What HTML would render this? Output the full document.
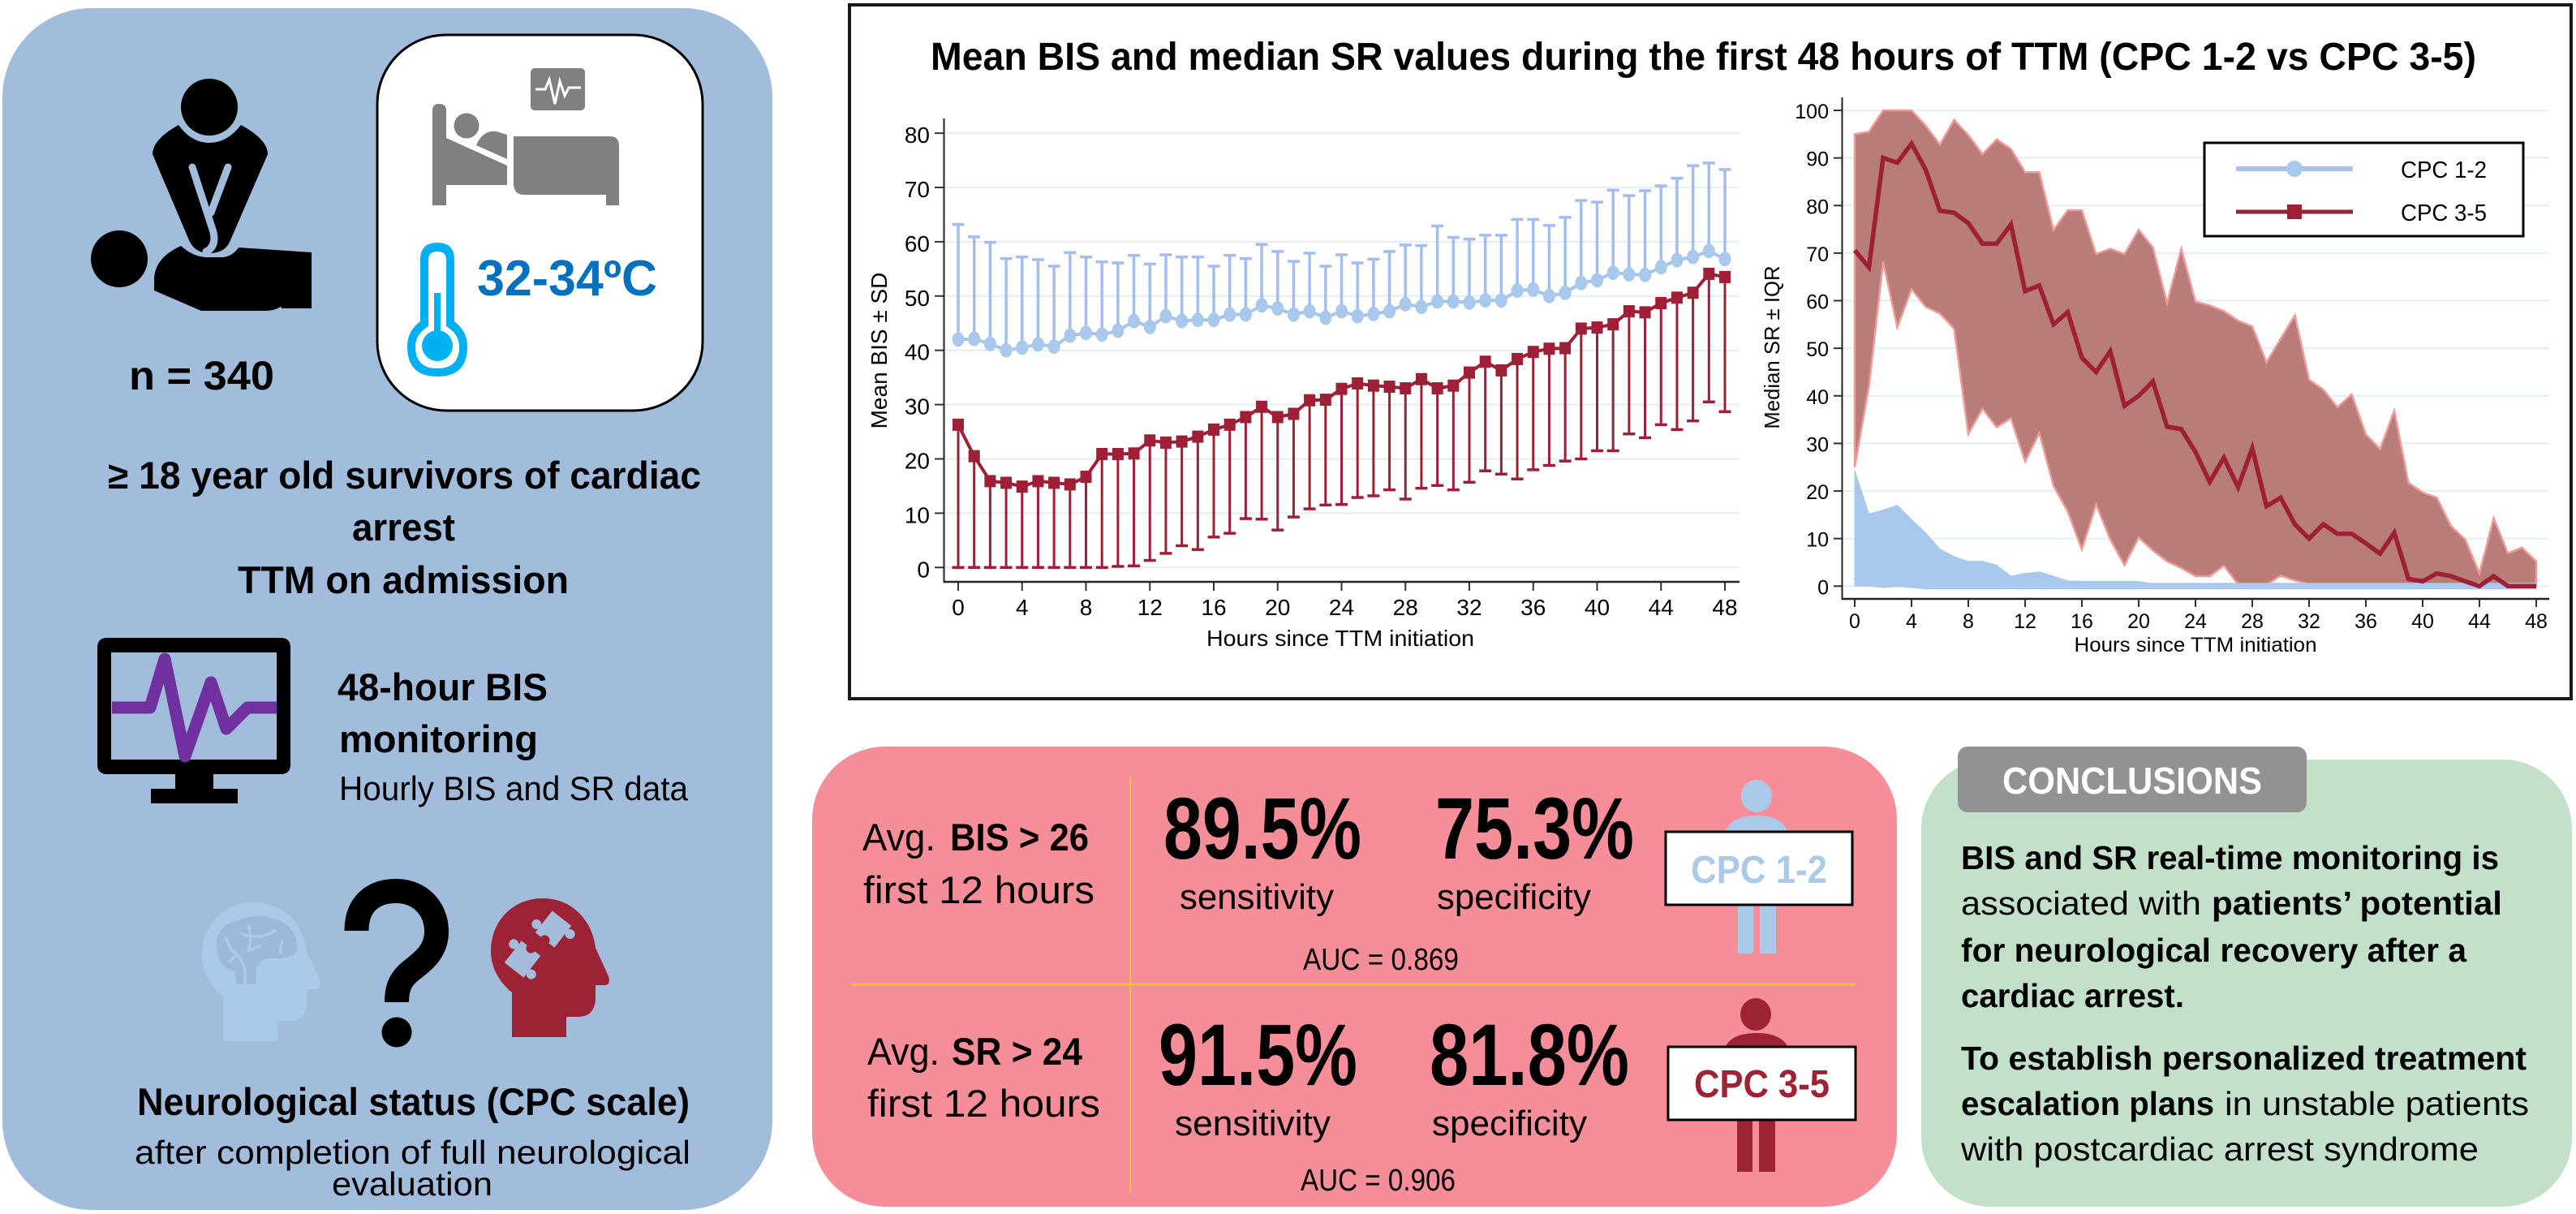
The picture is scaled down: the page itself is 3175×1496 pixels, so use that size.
<!DOCTYPE html>
<html lang="en">
<head>
<meta charset="utf-8">
<title>BIS and SR monitoring after cardiac arrest</title>
<style>
html,body{margin:0;padding:0;background:#fff;width:3175px;height:1496px;overflow:hidden}
svg{display:block}
text{font-family:"Liberation Sans",sans-serif;fill:#000}
.b{font-weight:bold}
</style>
</head>
<body>
<svg id="root" xmlns="http://www.w3.org/2000/svg" width="3175" height="1496" viewBox="0 0 3175 1496">
<rect width="3175" height="1496" fill="#fff"/>

<!-- LEFT PANEL -->
<g>
<rect x="3" y="10" width="949" height="1481" rx="110" ry="110" fill="#a2bcdc"/>
<g>
<circle cx="258" cy="132" r="35" fill="#000"/>
<path d="M220,154 Q188,172 188,190 L233,296 Q240,312 258,312 Q278,312 284,296 L330,190 Q330,172 297,154 Q280,176 258,176 Q236,176 220,154 Z" fill="#000"/>
<path d="M237,206 L263,286 Q267,304 254,310 M281,206 L260,262" fill="none" stroke="#a2bcdc" stroke-width="9" stroke-linecap="round"/>
<ellipse cx="147" cy="319" rx="35" ry="35" fill="#000"/>
<path d="M223,303 Q190,318 190,345 L190,358 L248,383 L325,383 Q350,383 351,367 Q350,340 328,338 L262,338 Q250,343 262,348 L315,348 Q340,360 347,380 L384,380 L384,311 L294,305 Q285,318 270,317 L258,317 Q240,318 223,303 Z" fill="#000"/>
</g>
<text x="159" y="480" class="b" font-size="50" textLength="179" lengthAdjust="spacingAndGlyphs">n = 340</text>

<g>
<rect x="465" y="43" width="401" height="463" rx="85" ry="85" fill="#fff" stroke="#000" stroke-width="3"/>
<g fill="#808080">
<rect x="654" y="84" width="67" height="52" rx="5"/>
<path d="M660,110 L672,110 L677,98 L684,128 L690,100 L696,118 L701,108 L716,108" fill="none" stroke="#fff" stroke-width="3"/>
<path d="M533,136 Q533,128 541,128 Q550,128 550,136 L550,228 L625,228 L625,204 L550,170 L550,253 L533,253 Z"/>
<circle cx="575" cy="155" r="15.5"/>
<path d="M587,179 Q595,160 612,162 L625,166 L625,196 Z"/>
<path d="M633,168 L752,168 Q763,168 763,180 L763,253 L747,253 L747,240 L646,240 Q633,240 633,226 Z"/>
</g>
<g>
<path d="M518,320 Q518,299 539,299 Q560,299 560,320 L560,396 Q576,408 576,427 Q576,464 539,464 Q502,464 502,427 Q502,408 518,396 Z" fill="#00b0f0"/>
<path d="M528,320 Q528,310 539,310 Q550,310 550,320 L550,402 Q566,412 566,427 Q566,454 539,454 Q512,454 512,427 Q512,412 528,402 Z" fill="#fff"/>
<rect x="535" y="361" width="8" height="60" fill="#00b0f0"/>
<circle cx="539" cy="426" r="19" fill="#00b0f0"/>
</g>
<text x="588" y="364" class="b" font-size="62" textLength="222" lengthAdjust="spacingAndGlyphs" style="fill:#0070c0">32-34ºC</text>
</g>

<text x="133" y="602" class="b" font-size="47" textLength="731" lengthAdjust="spacingAndGlyphs">≥ 18 year old survivors of cardiac</text>
<text x="434" y="666" class="b" font-size="47" textLength="127" lengthAdjust="spacingAndGlyphs">arrest</text>
<text x="293" y="731" class="b" font-size="47" textLength="408" lengthAdjust="spacingAndGlyphs">TTM on admission</text>

<g>
<path fill-rule="evenodd" d="M132,786 L346,786 Q358,786 358,798 L358,942 Q358,954 346,954 L132,954 Q120,954 120,942 L120,798 Q120,786 132,786 Z M137,804 L137,936 L341,936 L341,804 Z" fill="#000"/>
<rect x="216" y="954" width="47" height="18" fill="#000"/>
<rect x="186" y="972" width="107" height="18" fill="#000"/>
<path d="M138,872 L185,872 L203,812 L228,932 L260,841 L279,898 L305,872 L341,872" fill="none" stroke="#7030a0" stroke-width="15" stroke-linejoin="round"/>
</g>
<text x="416" y="863" class="b" font-size="47" textLength="259" lengthAdjust="spacingAndGlyphs">48-hour BIS</text>
<text x="418" y="927" class="b" font-size="47" textLength="245" lengthAdjust="spacingAndGlyphs">monitoring</text>
<text x="418" y="986" font-size="42" textLength="430" lengthAdjust="spacingAndGlyphs">Hourly BIS and SR data</text>

<g>
<path transform="translate(-356,5)" d="M631,1278 L631,1223 C615,1210 605,1192 605,1172 C605,1135 632,1107 669,1107 C706,1107 730,1135 734,1168 L750,1203 Q753,1214 745,1214 L734,1214 L734,1232 Q732,1253 713,1253 L698,1253 L698,1278 Z" fill="#abcae9"/>
<path d="M292,1213 L289,1197 C275,1195 266,1178 267,1165 C265,1148 280,1135 295,1134 C310,1126 330,1128 340,1134 C355,1135 366,1150 366,1168 C366,1180 350,1182 330,1181 C318,1183 315,1190 315,1213 Z" fill="#9db9da"/>
<path d="M302,1213 L302,1195 Q298,1180 285,1170 L278,1155 M290,1178 L282,1186 M306,1140 Q312,1158 305,1172 M296,1150 Q320,1160 340,1146 M345,1175 L348,1158 M322,1165 L305,1172" fill="none" stroke="#abcae9" stroke-width="3.5"/>
</g>
<g>
<path d="M439.5,1147 C439.5,1114 460,1098 488,1098 C518,1098 538,1120 538,1148 C538,1172 522,1184 508,1195 C495,1205 489,1215 489,1235" fill="none" stroke="#000" stroke-width="30"/>
<circle cx="489" cy="1272" r="18.5" fill="#000"/>
</g>
<g>
<path d="M631,1278 L631,1223 C615,1210 605,1192 605,1172 C605,1135 632,1107 669,1107 C706,1107 730,1135 734,1168 L750,1203 Q753,1214 745,1214 L734,1214 L734,1232 Q732,1253 713,1253 L698,1253 L698,1278 Z" fill="#9e2236"/>
<g transform="translate(644,1182) rotate(38)" fill="#a4bcdb">
<rect x="-15" y="-17" width="30" height="34"/>
<circle cx="-20" cy="-8" r="6"/>
<circle cx="20" cy="8" r="6"/>
<circle cx="0" cy="-17" r="6" fill="#9e2236"/>
</g>
<g transform="translate(682,1145) rotate(38)" fill="#a4bcdb">
<rect x="-15" y="-17" width="30" height="34"/>
<circle cx="20" cy="-8" r="6"/>
<circle cx="-20" cy="8" r="6"/>
<circle cx="0" cy="17" r="6" fill="#9e2236"/>
</g>
</g>
<text x="169" y="1374" class="b" font-size="47" textLength="681" lengthAdjust="spacingAndGlyphs">Neurological status (CPC scale)</text>
<text x="166" y="1434" font-size="41" textLength="685" lengthAdjust="spacingAndGlyphs">after completion of full neurological</text>
<text x="409" y="1473" font-size="41" textLength="198" lengthAdjust="spacingAndGlyphs">evaluation</text>
</g>

<!-- CHART FRAME -->
<rect x="1047" y="6" width="2122" height="855" fill="#fff" stroke="#1a1a1a" stroke-width="4"/>
<text x="1147" y="86" class="b" font-size="48" textLength="1905" lengthAdjust="spacingAndGlyphs">Mean BIS and median SR values during the first 48 hours of TTM (CPC 1-2 vs CPC 3-5)</text>

<g id="bis-chart">
<text transform="translate(1093,432) rotate(-90)" text-anchor="middle" font-size="28">Mean BIS ± SD</text>
<text x="1652" y="796" text-anchor="middle" font-size="28" textLength="330" lengthAdjust="spacingAndGlyphs">Hours since TTM initiation</text>
</g>
<g id="sr-chart">
<text transform="translate(2193,428) rotate(-90)" text-anchor="middle" font-size="25.7">Median SR ± IQR</text>
<text x="2706" y="803" text-anchor="middle" font-size="25" textLength="299" lengthAdjust="spacingAndGlyphs">Hours since TTM initiation</text>
</g>

<g>
<rect x="2717" y="176" width="393" height="115" fill="#fff" stroke="#000" stroke-width="3"/>
<line x1="2756" y1="208" x2="2900" y2="208" stroke="#a7c1ea" stroke-width="6"/>
<circle cx="2828" cy="208" r="10" fill="#a9c9ec"/>
<text x="2959" y="219" font-size="29" textLength="106" lengthAdjust="spacingAndGlyphs">CPC 1-2</text>
<line x1="2756" y1="261" x2="2900" y2="261" stroke="#9e1f36" stroke-width="5"/>
<rect x="2819" y="252" width="18" height="18" fill="#9e1f36"/>
<text x="2959" y="272" font-size="29" textLength="106" lengthAdjust="spacingAndGlyphs">CPC 3-5</text>
</g>

<!-- RESULTS PANEL -->
<g>
<rect x="1001" y="920" width="1337" height="567" rx="90" ry="90" fill="#f58e98"/>
<line x1="1393" y1="957" x2="1393" y2="1470" stroke="#f5c13a" stroke-width="2"/>
<line x1="1049" y1="1213" x2="2287" y2="1213" stroke="#f5c13a" stroke-width="2.5"/>

<text x="1063" y="1048" font-size="47" textLength="90" lengthAdjust="spacingAndGlyphs">Avg.</text>
<text x="1171" y="1048" class="b" font-size="47" textLength="171" lengthAdjust="spacingAndGlyphs">BIS &gt; 26</text>
<text x="1064" y="1113" font-size="47" textLength="285" lengthAdjust="spacingAndGlyphs">first 12 hours</text>
<text x="1069" y="1312" font-size="47" textLength="89" lengthAdjust="spacingAndGlyphs">Avg.</text>
<text x="1173" y="1312" class="b" font-size="47" textLength="161" lengthAdjust="spacingAndGlyphs">SR &gt; 24</text>
<text x="1069" y="1376" font-size="47" textLength="287" lengthAdjust="spacingAndGlyphs">first 12 hours</text>

<text x="1434" y="1058" class="b" font-size="108" textLength="244" lengthAdjust="spacingAndGlyphs">89.5%</text>
<text x="1769" y="1058" class="b" font-size="108" textLength="245" lengthAdjust="spacingAndGlyphs">75.3%</text>
<text x="1454" y="1120" font-size="44" textLength="190" lengthAdjust="spacingAndGlyphs">sensitivity</text>
<text x="1771" y="1120" font-size="44" textLength="190" lengthAdjust="spacingAndGlyphs">specificity</text>
<text x="1606" y="1195" font-size="38" textLength="192" lengthAdjust="spacingAndGlyphs">AUC = 0.869</text>

<text x="1428" y="1337" class="b" font-size="108" textLength="245" lengthAdjust="spacingAndGlyphs">91.5%</text>
<text x="1762" y="1337" class="b" font-size="108" textLength="246" lengthAdjust="spacingAndGlyphs">81.8%</text>
<text x="1448" y="1399" font-size="44" textLength="192" lengthAdjust="spacingAndGlyphs">sensitivity</text>
<text x="1765" y="1399" font-size="44" textLength="191" lengthAdjust="spacingAndGlyphs">specificity</text>
<text x="1603" y="1467" font-size="38" textLength="191" lengthAdjust="spacingAndGlyphs">AUC = 0.906</text>

<g fill="#abcae9">
<ellipse cx="2165" cy="981" rx="19" ry="20"/>
<path d="M2126,1026 Q2134,1005 2165,1005 Q2196,1005 2204,1026 Z"/>
<rect x="2142" y="1115" width="19" height="60"/>
<rect x="2169" y="1115" width="20" height="60"/>
<rect x="2053" y="1025" width="230" height="90" fill="#fff" stroke="#000" stroke-width="3"/>
<text x="2084" y="1088" class="b" font-size="48" textLength="168" lengthAdjust="spacingAndGlyphs" style="fill:#abcae9">CPC 1-2</text>
</g>
<g fill="#9e2236">
<ellipse cx="2164" cy="1250" rx="19" ry="20"/>
<path d="M2126,1291 Q2134,1273 2165,1273 Q2196,1273 2204,1291 Z"/>
<rect x="2141" y="1380" width="19" height="64"/>
<rect x="2168" y="1380" width="20" height="64"/>
<rect x="2056" y="1290" width="231" height="90" fill="#fff" stroke="#000" stroke-width="3"/>
<text x="2088" y="1352" class="b" font-size="48" textLength="167" lengthAdjust="spacingAndGlyphs" style="fill:#9e2236">CPC 3-5</text>
</g>
</g>

<!-- CONCLUSIONS -->
<g>
<rect x="2368" y="936" width="802" height="551" rx="85" ry="85" fill="#c3e0ca"/>
<rect x="2413" y="920" width="430" height="81" rx="12" ry="12" fill="#929292"/>
<text x="2468" y="978" class="b" font-size="46" textLength="320" lengthAdjust="spacingAndGlyphs" style="fill:#fff">CONCLUSIONS</text>
<text x="2417" y="1071" class="b" font-size="41" textLength="663" lengthAdjust="spacingAndGlyphs">BIS and SR real-time monitoring is</text>
<text x="2417" y="1127" font-size="41" textLength="296" lengthAdjust="spacingAndGlyphs">associated with</text>
<text x="2726" y="1127" class="b" font-size="41" textLength="358" lengthAdjust="spacingAndGlyphs">patients’ potential</text>
<text x="2417" y="1185" class="b" font-size="41" textLength="623" lengthAdjust="spacingAndGlyphs">for neurological recovery after a</text>
<text x="2417" y="1241" class="b" font-size="41" textLength="275" lengthAdjust="spacingAndGlyphs">cardiac arrest.</text>
<text x="2417" y="1318" class="b" font-size="41" textLength="697" lengthAdjust="spacingAndGlyphs">To establish personalized treatment</text>
<text x="2417" y="1374" class="b" font-size="41" textLength="312" lengthAdjust="spacingAndGlyphs">escalation plans</text>
<text x="2742" y="1374" font-size="41" textLength="375" lengthAdjust="spacingAndGlyphs">in unstable patients</text>
<text x="2417" y="1430" font-size="41" textLength="638" lengthAdjust="spacingAndGlyphs">with postcardiac arrest syndrome</text>
</g>
</svg>

<script>
// ---- chart data ----
const hours = [0,1,2,3,4,5,6,7,8,9,10,11,12,13,14,15,16,17,18,19,20,21,22,23,24,25,26,27,28,29,30,31,32,33,34,35,36,37,38,39,40,41,42,43,44,45,46,47,48];
const xTickLabels = [0,4,8,12,16,20,24,28,32,36,40,44,48];
const bisTickLabels = [0,10,20,30,40,50,60,70,80];
const srTickLabels = [0,10,20,30,40,50,60,70,80,90,100];

const bisGoodMean = [42,42.1,41.2,40,40.5,41.1,40.7,42.7,43.2,42.9,43.6,45.4,44.3,46.3,45.4,45.6,45.6,46.6,46.6,48.3,47.7,46.6,47.2,46,47.2,46.3,46.7,47.2,48.5,48,49,49,48.8,49.2,49.2,51,51.2,50,50.6,52.4,52.9,54.3,54,53.9,55.3,56.6,57.2,58.3,56.8];
const bisGoodUpper = [63.2,60.9,59.9,56.9,57.2,56.7,55.5,58,57.2,56.3,56.1,57.5,55.9,57.6,57.2,57.2,55.5,57.5,56.9,59.5,58.2,56.4,57.9,55.5,57.6,56.1,56.8,58.2,59.4,59.3,62.9,60.8,60.5,61.2,61.2,64.1,64.1,63,64.5,67.6,67.3,69.5,68.5,69.4,70.3,71.7,74,74.5,73.3];
const bisPoorMean = [26.3,20.5,15.9,15.6,14.9,15.9,15.6,15.3,16.7,20.9,20.9,21,23.4,23,23.2,24.1,25.4,26.3,27.7,29.6,27.7,28.3,30.8,30.9,32.9,33.9,33.5,33.3,33,34.7,33,33.5,35.9,37.9,36.3,38.4,39.7,40.3,40.4,44,44.2,44.8,47.2,47,48.7,49.7,50.6,54.1,53.5];
const bisPoorLower = [0,0,0,0,0,0,0,0,0,0,0.2,0.3,1.3,2.6,4,3.3,5.6,6.3,9,8.9,6.9,9.3,10.8,11.5,11.6,12.9,13.2,14.3,12.6,14.6,15.1,14.3,15.7,17.8,17.2,16.3,18,18.8,19.6,20,21.5,21.5,24.6,23.9,26.3,25.4,27,30.5,28.7];

const srPoorMedian = [70.6,67,90,89,93,87.5,78.9,78.5,76.3,72,72,76,62,63.2,55,57.6,48,45,49.4,37.9,40,43,33.5,33,28.2,21.9,27,20.8,29,16.8,18.6,13,10,13,11,11,9,6.8,11.2,1.5,1,2.7,2.1,1,0,2.1,0,0,0];
const srPoorUpper = [95,95.5,100,100,100,96.8,92.8,98,94.8,90.8,93.9,91.9,87,87,74.8,79,79,69.8,70.9,69.8,74.9,71.2,59.5,70.9,59.8,59,57.8,55.8,54.6,47,52,56.9,43.4,41.3,37.6,40.3,31.9,28.8,36.9,21.7,19.7,18.6,12.6,9.8,2.7,14.3,6.9,8.1,5.2];
const srPoorLower = [25,42,68.2,54.4,62.4,58.7,57.3,54.1,32,37.3,33.4,35.3,26.2,32.2,21.1,15.7,7.7,17.2,9.8,4.4,10.2,7.5,5.2,3.8,2.1,2.1,4.3,0.4,0,0.3,2.2,1.2,0.4,0,0,0,0,0,0,0,0,0,0,0,0,0,0,0,0];
const srGoodMedian = [2,0.6,0.3,0.5,0.3,0,0,0,0,0,0,0,0,0,0,0,0,0,0,0,0,0,0,0,0,0,0,0,0,0,0,0,0,0,0,0,0,0,0,0,0,0,0,0,0,0,0,0,0];
const srGoodUpper = [24.3,15.2,16,17,14,11.2,7.8,6.2,5.2,5.2,4.4,2.1,2.7,3,2.1,1.1,1,1,1,1,1,0.5,0.5,0.5,0.5,0.5,0.5,0.5,0.5,0.5,0.5,0.5,0.5,0.5,0.5,0.5,0.5,0.5,0.5,0.5,0.5,0.5,0.5,0.5,0.5,0.5,0.5,0.5,0.5];
const srGoodLower = [0,0,0,0,0,0,0,0,0,0,0,0,0,0,0,0,0,0,0,0,0,0,0,0,0,0,0,0,0,0,0,0,0,0,0,0,0,0,0,0,0,0,0,0,0,0,0,0,0];

// ---- axis functions ----
function xBis(h){ return 1181 + h * (2126 - 1181) / 48; }
function yBis(v){ return 699.3 - v * 6.69; }
function xSr(h){ return 2286 + h * (3126 - 2286) / 48; }
function ySr(v){ return 722.3 - v * 5.863; }

const NS = 'http://www.w3.org/2000/svg';
const bisRoot = document.getElementById('bis-chart');
const srRoot = document.getElementById('sr-chart');
function mk(parent, tag, attrs){
  const node = document.createElementNS(NS, tag);
  Object.keys(attrs).forEach(function(k){ node.setAttribute(k, attrs[k]); });
  parent.appendChild(node);
  return node;
}
function linePath(xs, ys, xf, yf){
  return xs.map(function(h, i){ return (i ? 'L' : 'M') + xf(h).toFixed(1) + ',' + yf(ys[i]).toFixed(1); }).join(' ');
}
function bandPath(xs, up, lo, xf, yf){
  const top = xs.map(function(h, i){ return (i ? 'L' : 'M') + xf(h).toFixed(1) + ',' + yf(up[i]).toFixed(1); }).join(' ');
  const bottom = xs.slice().reverse().map(function(h, i){ const k = xs.length - 1 - i; return 'L' + xf(h).toFixed(1) + ',' + yf(lo[k]).toFixed(1); }).join(' ');
  return top + ' ' + bottom + ' Z';
}

// ---- BIS chart: grid and axes ----
bisTickLabels.forEach(function(v){
  const grid = mk(bisRoot, 'line', {x1:1164, x2:2144, y1:yBis(v), y2:yBis(v), stroke:'#e8f0f3', 'stroke-width':2.5});
  
  
  const tick = mk(bisRoot, 'line', {x1:1152, x2:1164, y1:yBis(v), y2:yBis(v), stroke:'#333', 'stroke-width':2});
  
  
  const label = mk(bisRoot, 'text', {x:1146, y:yBis(v) + 12, 'text-anchor':'end', 'font-size':28});
  label.textContent = v;
  
  
});
xTickLabels.forEach(function(h){
  const tick = mk(bisRoot, 'line', {x1:xBis(h), x2:xBis(h), y1:717, y2:728, stroke:'#333', 'stroke-width':2});
  
  
  const label = mk(bisRoot, 'text', {x:xBis(h), y:758, 'text-anchor':'middle', 'font-size':28});
  label.textContent = h;
  
  
});
const bisYAxis = mk(bisRoot, 'line', {x1:1163.5, x2:1163.5, y1:146, y2:718, stroke:'#222', 'stroke-width':2});


const bisXAxis = mk(bisRoot, 'line', {x1:1163, x2:2144, y1:717, y2:717, stroke:'#222', 'stroke-width':2.5});



// ---- BIS chart: good-outcome series ----
hours.forEach(function(h, i){
  const stem = mk(bisRoot, 'line', {x1:xBis(h), x2:xBis(h), y1:yBis(bisGoodMean[i]), y2:yBis(bisGoodUpper[i]), stroke:'#a3bdee', 'stroke-width':3.5});
  
  
  const cap = mk(bisRoot, 'line', {x1:xBis(h) - 7.5, x2:xBis(h) + 7.5, y1:yBis(bisGoodUpper[i]), y2:yBis(bisGoodUpper[i]), stroke:'#a3bdee', 'stroke-width':3.5});
  
  
});
const bisGoodLine = mk(bisRoot, 'path', {d:linePath(hours, bisGoodMean, xBis, yBis), fill:'none', stroke:'#a7c4ec', 'stroke-width':4});


hours.forEach(function(h, i){
  const dot = mk(bisRoot, 'ellipse', {cx:xBis(h), cy:yBis(bisGoodMean[i]), rx:7.5, ry:9, fill:'#a9c9ec'});
  
  
});

// ---- BIS chart: poor-outcome series ----
hours.forEach(function(h, i){
  const stem = mk(bisRoot, 'line', {x1:xBis(h), x2:xBis(h), y1:yBis(bisPoorMean[i]), y2:yBis(bisPoorLower[i]), stroke:'#9e1f36', 'stroke-width':3});
  
  
  const cap = mk(bisRoot, 'line', {x1:xBis(h) - 7.5, x2:xBis(h) + 7.5, y1:yBis(bisPoorLower[i]), y2:yBis(bisPoorLower[i]), stroke:'#9e1f36', 'stroke-width':3.5});
  
  
});
const bisPoorLine = mk(bisRoot, 'path', {d:linePath(hours, bisPoorMean, xBis, yBis), fill:'none', stroke:'#9e1f36', 'stroke-width':4});


hours.forEach(function(h, i){
  const sq = mk(bisRoot, 'rect', {x:xBis(h) - 7, y:yBis(bisPoorMean[i]) - 7.5, width:14, height:15, fill:'#9e1f36'});
  
  
});

// ---- SR chart: grid and axes ----
srTickLabels.forEach(function(v){
  const grid = mk(srRoot, 'line', {x1:2271, x2:3142, y1:ySr(v), y2:ySr(v), stroke:'#e8f0f3', 'stroke-width':2.5});
  
  
  const tick = mk(srRoot, 'line', {x1:2260, x2:2271, y1:ySr(v), y2:ySr(v), stroke:'#333', 'stroke-width':2});
  
  
  const label = mk(srRoot, 'text', {x:2254, y:ySr(v) + 10, 'text-anchor':'end', 'font-size':25});
  label.textContent = v;
  
  
});
xTickLabels.forEach(function(h){
  const tick = mk(srRoot, 'line', {x1:xSr(h), x2:xSr(h), y1:738, y2:748, stroke:'#333', 'stroke-width':2});
  
  
  const label = mk(srRoot, 'text', {x:xSr(h), y:774, 'text-anchor':'middle', 'font-size':25});
  label.textContent = h;
  
  
});
const srYAxis = mk(srRoot, 'line', {x1:2270.5, x2:2270.5, y1:120, y2:739, stroke:'#222', 'stroke-width':2});


const srXAxis = mk(srRoot, 'line', {x1:2270, x2:3142, y1:738, y2:738, stroke:'#222', 'stroke-width':2.5});



// ---- SR chart: bands and medians ----
const srPoorBand = mk(srRoot, 'path', {d:bandPath(hours, srPoorUpper, srPoorLower, xSr, ySr), fill:'#b87d78', stroke:'#f09a9a', 'stroke-width':2.5});


const srGoodBand = mk(srRoot, 'path', {d:bandPath(hours, srGoodUpper, srGoodLower, xSr, ySr), fill:'#a9c9ec', stroke:'#a9c9ec', 'stroke-width':1});


const srGoodLine = mk(srRoot, 'path', {d:linePath(hours, srGoodMedian, xSr, ySr), fill:'none', stroke:'#a9c9ec', 'stroke-width':8});


const srPoorLine = mk(srRoot, 'path', {d:linePath(hours, srPoorMedian, xSr, ySr), fill:'none', stroke:'#9e1f36', 'stroke-width':5.5});


</script>
</body>
</html>
